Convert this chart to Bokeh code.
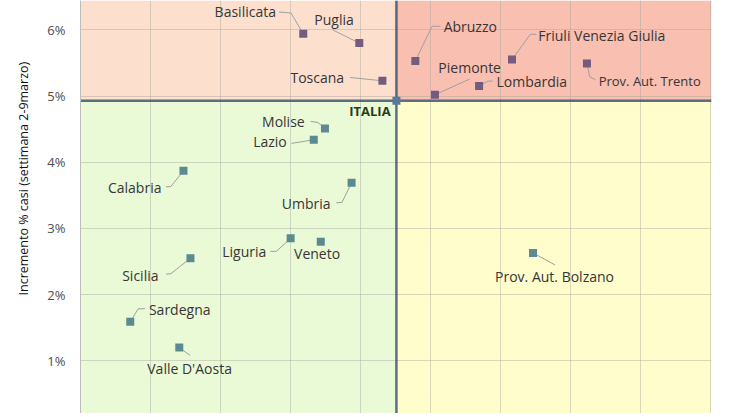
from bokeh.plotting import figure
from bokeh.models import Range1d, FixedTicker, PrintfTickFormatter, Span, ColumnDataSource, Title
from bokeh.embed import file_html
from bokeh.resources import INLINE
from bokeh.core.properties import value

# ---------------- data ----------------
regions = ["Basilicata", "Puglia", "Toscana", "Abruzzo", "Piemonte", "Lombardia",
           "Friuli Venezia Giulia", "Prov. Aut. Trento", "Molise", "Lazio", "Calabria",
           "Umbria", "Liguria", "Veneto", "Sicilia", "Sardegna", "Valle D'Aosta",
           "Prov. Aut. Bolzano"]
x_values = [3.18, 3.98, 4.31, 4.78, 5.06, 5.69, 6.16, 7.23, 3.49, 3.33, 1.47,
            3.87, 3.00, 3.43, 1.57, 0.71, 1.41, 6.46]
incremento_pct = [5.94, 5.80, 5.23, 5.53, 5.02, 5.15, 5.55, 5.49, 4.51, 4.34, 3.87,
                  3.69, 2.85, 2.80, 2.55, 1.59, 1.20, 2.63]
italia_name = "ITALIA"
italia_x = 4.51
italia_y = 4.93
y_ticks = [1, 2, 3, 4, 5, 6]
x_grid_ticks = [0, 1, 2, 3, 4, 5, 6, 7, 8, 9]
y_axis_title = "Incremento % casi (settimana 2-9marzo)"

# ---------------- label layout (screen px offsets from marker; dy down) ----------------
label_dx = [-27.3, -45.0, -38.3, 28.3, 3.4, 17.4, 26.3, 11.7, -20.3, -27.0, -22.0,
            -21.0, -24.3, -26.7, -32.0, 18.7, -32.0, -38.0]
label_dy = [-21.8, -24.0, -3.0, -34.6, -27.6, -4.3, -24.3, 17.3, -7.0, 2.0, 17.0,
            21.0, 13.5, 11.7, 17.0, -12.0, 21.0, 24.0]
label_align = ["right", "left", "right", "left", "left", "left", "left", "left", "right",
               "right", "right", "right", "right", "left", "right", "left", "left", "left"]
label_size = ["14px"] * 7 + ["13px"] + ["14px"] * 10
leaders = [
    [(-24.3, -21.8), (-12.3, -20.8), (0, 0)],
    [(-26.3, -13.0), (0, 0)],
    [(-32.3, -3.3), (0, 0)],
    [(25.0, -34.6), (16.7, -34.6), (0, 0)],
    [(34.7, -15.6), (0, 0)],
    [(13.7, -5.0), (8.7, -5.0), (0, 0)],
    [(24.3, -25.3), (18.3, -25.3), (0, 0)],
    [(0, 0), (2.7, 13.0), (8.5, 16.3)],
    [(-14.3, -7.0), (-7.0, -6.0), (0, 0)],
    [(-22.3, 3.7), (-6.0, 1.0), (0, 0)],
    [(-17.6, 16.0), (-12.6, 15.7), (0, 0)],
    [(-15.3, 20.0), (-9.6, 19.7), (0, 0)],
    [(-20.3, 13.0), (-14.3, 13.0), (0, 0)],
    None,
    [(-24.3, 16.0), (-19.6, 15.5), (0, 0)],
    [(14.7, -13.0), (8.0, -13.0), (0, 0)],
    [(0, 0), (10.7, 7.7)],
    [(0, 0), (22.0, 12.0)],
]

# ---------------- figure ----------------
FW, FH = 631, 413
x0, x1 = 0.0, 9.008
y0, y1 = 0.204, 6.443
pxx = FW / (x1 - x0)
pxy = FH / (y1 - y0)

p = figure(frame_width=FW, frame_height=FH, min_border_left=80, min_border_right=22,
           min_border_top=0, min_border_bottom=0,
           x_range=Range1d(x0, x1), y_range=Range1d(y0, y1),
           x_axis_location=None, output_backend="svg", toolbar_location=None)
p.outline_line_color = None
p.background_fill_color = "white"
p.border_fill_color = "white"

# quadrant backgrounds
quad_src = ColumnDataSource(dict(
    left=[x0, italia_x, x0, italia_x],
    right=[italia_x, x1, italia_x, x1],
    bottom=[italia_y, italia_y, y0, y0],
    top=[y1, y1, italia_y, italia_y],
    color=["#FCE0CD", "#F9BFB0", "#EAF9D6", "#FFFDCC"],
))
p.quad(left="left", right="right", bottom="bottom", top="top", fill_color="color",
       line_color=None, source=quad_src, level="image")

# grids
p.xgrid.ticker = FixedTicker(ticks=x_grid_ticks)
p.ygrid.ticker = FixedTicker(ticks=y_ticks)
for g in (p.xgrid, p.ygrid):
    g.grid_line_color = "#a8a8a0"
    g.grid_line_alpha = 0.45
    g.grid_line_width = 1

# y axis
ax = p.yaxis[0]
ax.ticker = FixedTicker(ticks=y_ticks)
ax.formatter = PrintfTickFormatter(format="%d%%")
ax.major_tick_line_color = None
ax.minor_tick_line_color = None
ax.major_tick_out = 0
ax.major_tick_in = 0
ax.axis_line_color = "#bdbdbd"
ax.major_label_standoff = 15
ax.major_label_text_font = "Open Sans"
ax.major_label_text_font_size = "13px"
ax.major_label_text_color = "#4d4d4d"

# y axis title (as a side title so it can be shifted like in the original)
p.add_layout(Title(text=y_axis_title, align="left", offset=118, standoff=22,
                   vertical_align="top", text_font="Open Sans", text_font_size="12.5px",
                   text_font_style="normal", text_color="#111111"), "left")

# divider lines through ITALIA
p.add_layout(Span(location=italia_y, dimension="width", line_color="#1f3d5c",
                  line_alpha=0.72, line_width=2.5, level="underlay"))
p.add_layout(Span(location=italia_x, dimension="height", line_color="#1f3d5c",
                  line_alpha=0.72, line_width=2.5, level="underlay"))

# leader lines
lx, ly = [], []
for xv, yv, ld in zip(x_values, incremento_pct, leaders):
    if ld is None:
        continue
    lx.append([xv + dx / pxx for dx, dy in ld])
    ly.append([yv - dy / pxy for dx, dy in ld])
p.multi_line(xs=lx, ys=ly, line_color="#a0a0a0", line_width=1)

# markers
colors = ["#735c80" if yv >= italia_y else "#5b8b91" for yv in incremento_pct]
p.scatter(x=x_values, y=incremento_pct, marker="square", size=8, fill_color=colors,
          line_color=None)
p.scatter(x=[italia_x], y=[italia_y], marker="square", size=8, fill_color="#58799a",
          line_color=None)

# labels
lab_src = ColumnDataSource(dict(
    x=[xv + dx / pxx for xv, dx in zip(x_values, label_dx)],
    y=[yv - dy / pxy for yv, dy in zip(incremento_pct, label_dy)],
    text=regions,
    align=label_align,
    size=label_size,
))
p.text(x="x", y="y", text="text", text_align="align", text_baseline="middle",
       text_font=value("Open Sans"), text_font_size="size", text_color="#363636",
       source=lab_src)
p.text(x=[italia_x - 5.8 / pxx], y=[italia_y - 10.7 / pxy], text=[italia_name],
       text_align="right", text_baseline="middle", text_font=value("Open Sans"),
       text_font_size="13px", text_font_style="bold", text_color="#263d1c")

open("out.html", "w").write(file_html(p, INLINE))
